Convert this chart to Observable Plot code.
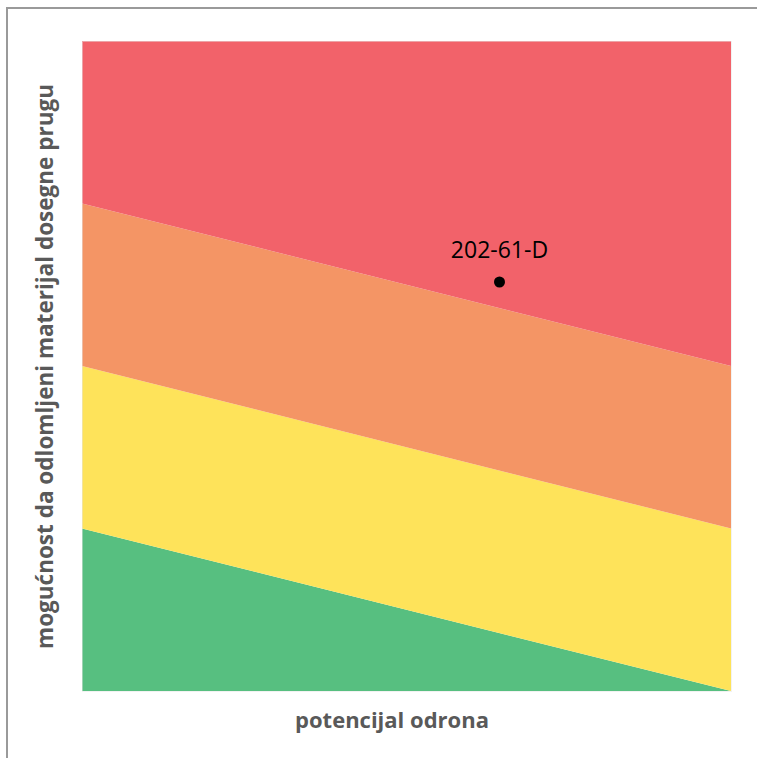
<!DOCTYPE html>
<html>
<head>
<meta charset="utf-8">
<script src="https://cdn.jsdelivr.net/npm/d3@7"></script>
<script src="https://cdn.jsdelivr.net/npm/@observablehq/plot@0.6"></script>
<style>
  html, body { margin: 0; padding: 0; background: #fff; }
  #wrap { position: relative; width: 757px; height: 758px; overflow: hidden; }
  #frame { position: absolute; left: 6px; top: 7px; width: 800px; height: 800px;
           border-left: 2px solid #9a9a9a; border-top: 2px solid #9a9a9a; box-sizing: border-box; }
  #chart { position: absolute; left: 0; top: 0; }
</style>
</head>
<body>
<div id="wrap"><div id="frame"></div><div id="chart"></div></div>
<script>
// Risk zones: lower/upper boundary at left (x=0) and right (x=4) edges
const zoneNames      = ["nisko", "srednje", "visoko", "vrlo visoko"];
const zoneColors     = ["#57bf80", "#fee35a", "#f49565", "#f2626a"];
const zoneLowLeft    = [0, 1, 2, 3];
const zoneHighLeft   = [1, 2, 3, 4];
const zoneLowRight   = [0, 0, 1, 2];
const zoneHighRight  = [0, 1, 2, 4];
const edgeX          = [0, 4];

// Point
const pointLabels = ["202-61-D"];
const pointX      = [2.57];
const pointY      = [2.52];

const xTitle = "potencijal odrona";
const yTitle = "mogućnost da odlomljeni materijal dosegne prugu";

const bands = [];
zoneNames.forEach((z, i) => {
  bands.push({zone: z, x: edgeX[0], lo: zoneLowLeft[i], hi: zoneHighLeft[i]});
  bands.push({zone: z, x: edgeX[1], lo: zoneLowRight[i], hi: zoneHighRight[i]});
});
const points = pointLabels.map((l, i) => ({label: l, x: pointX[i], y: pointY[i]}));

const font = "'Open Sans', sans-serif";

const chart = Plot.plot({
  width: 757,
  height: 758,
  marginLeft: 82,
  marginRight: 26,
  marginTop: 41,
  marginBottom: 67,
  x: {domain: [0, 4], axis: null},
  y: {domain: [0, 4], axis: null},
  color: {domain: zoneNames, range: zoneColors},
  style: {fontFamily: font, background: "transparent", overflow: "visible"},
  marks: [
    Plot.areaY(bands, {x: "x", y1: "lo", y2: "hi", z: "zone", fill: "zone", fillOpacity: 1}),
    Plot.frame({stroke: "#e6e6e6", strokeOpacity: 0.5}),
    Plot.dot(points, {x: "x", y: "y", r: 5.5, fill: "black", stroke: "none"}),
    Plot.text(points, {x: "x", y: "y", text: "label", dy: -31, fontSize: 23, fill: "black"}),
    Plot.text([xTitle], {text: d => d, frameAnchor: "bottom", textAnchor: "middle", dx: -15, dy: 36, fontSize: 22, fontWeight: "bold", fill: "#595959"}),
    Plot.text([yTitle], {text: d => d, frameAnchor: "left", textAnchor: "middle", dx: -37, rotate: -90, fontSize: 22.5, fontWeight: "bold", fill: "#595959"})
  ]
});
document.getElementById("chart").appendChild(chart);
</script>
</body>
</html>
